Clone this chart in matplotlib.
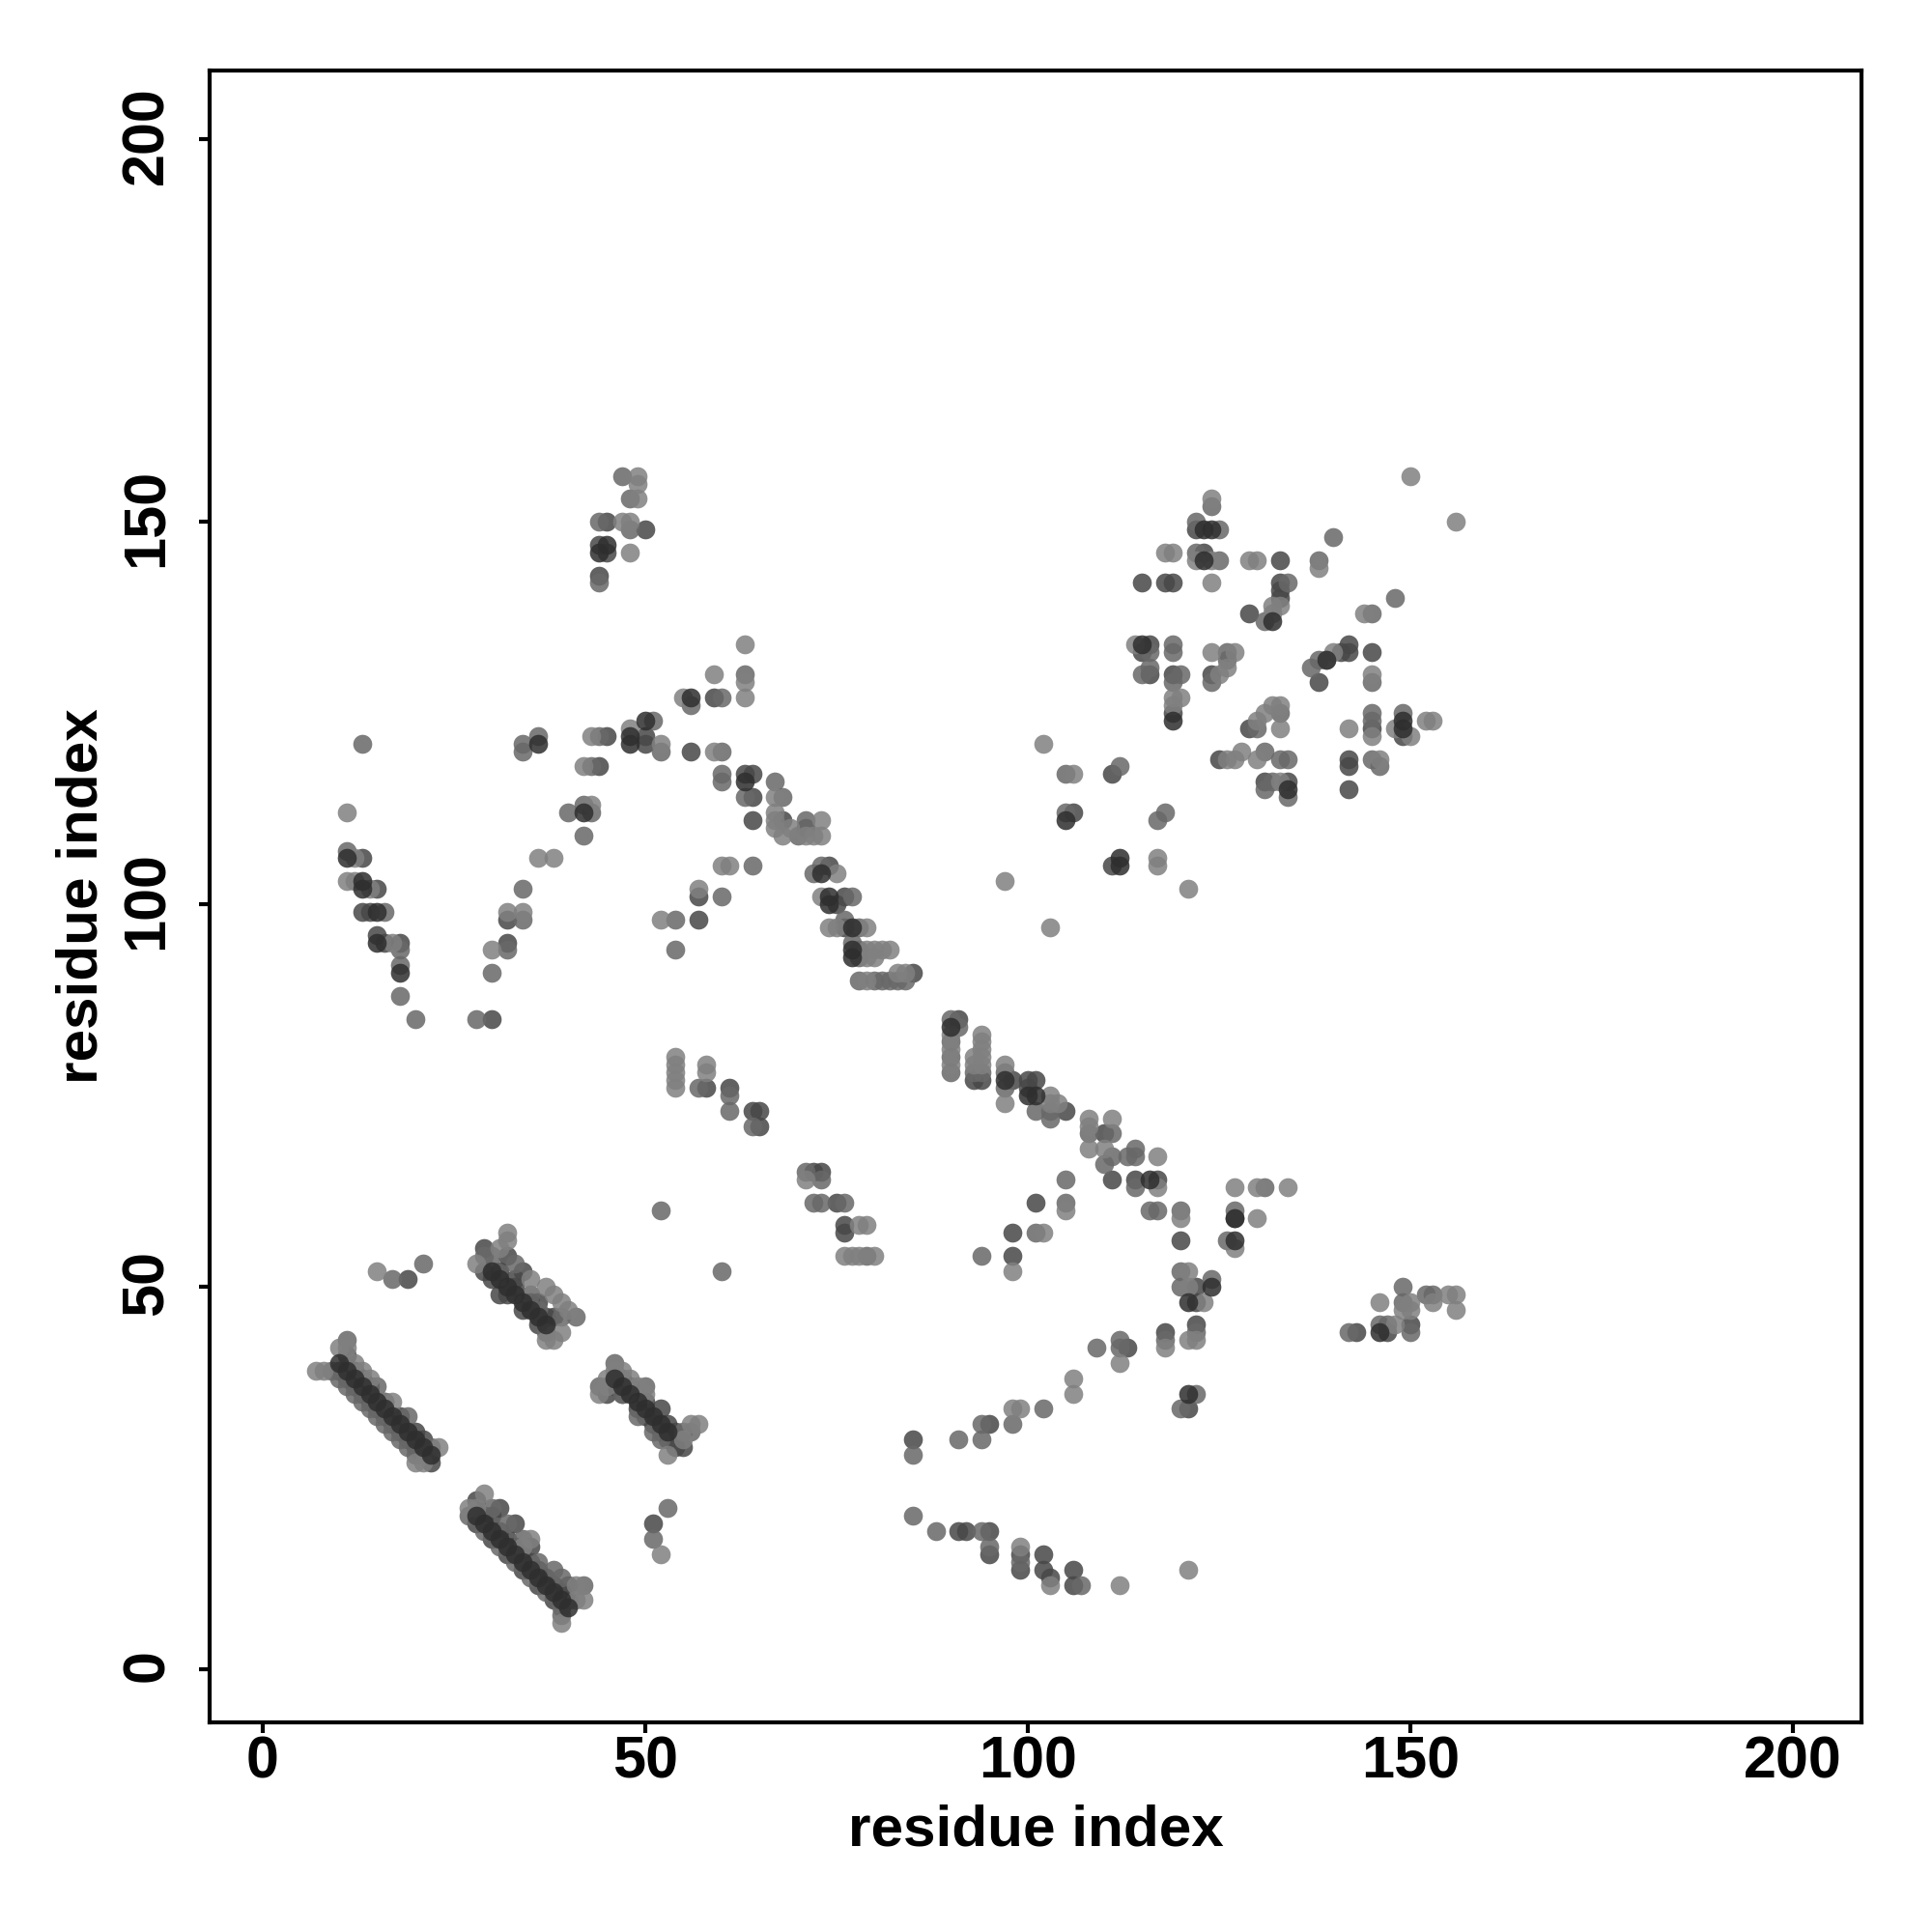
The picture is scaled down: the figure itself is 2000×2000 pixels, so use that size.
import matplotlib
matplotlib.use("Agg")
import matplotlib.pyplot as plt
from matplotlib.transforms import ScaledTranslation
import numpy as np

plt.rcParams['font.family'] = ['Liberation Sans', 'DejaVu Sans']

tick_values = [0, 50, 100, 150, 200]
axis_label = "residue index"

contacts_black = [
 (10,40),(11,39),(12,38),(13,37),(14,36),(15,35),(16,34),(17,33),(18,32),(19,31),(20,30),(21,29),(22,28),
 (28,20),(29,19),(30,18),(31,17),(32,16),(33,15),(34,14),(35,13),(36,12),(37,11),(38,10),(39,9),(40,8),
 (30,52),(31,51),(32,50),(33,49),(34,48),(35,47),(36,46),(37,45),
 (46,38),(47,37),(48,36),(49,35),(50,34),(51,33),(52,32),(53,31),
 (11,106),(13,103),(13,102),(15,99),(15,95),(18,91),
 (36,121),(42,112),(48,121),(48,122),(50,124),(56,127),(63,116),
 (73,104),(74,101),(74,100),(77,97),(77,94),(77,93),
 (90,84),(97,77),(100,75),(101,75),(116,64),(127,56),(124,50),(121,48),(121,36),
 (44,146),(45,147),(123,149),(124,149),(123,145),(132,137),(115,134),(119,124),
 (149,124),(149,123),(134,115),(105,111),(112,106),(112,105),(127,59),(139,132),(146,44),
]
contacts_dark = [
 (11,41),(12,39),(13,38),(20,31),(21,30),(14,37),(16,33),(18,31),(22,27),
 (10,39),(11,38),(12,37),(13,36),(14,35),(15,34),(16,35),(17,32),(18,33),(19,30),(20,29),(21,28),
 (28,22),(31,21),(33,19),(35,16),(36,13),(38,11),(40,11),(30,20),(32,17),
 (28,19),(29,20),(30,17),(31,18),(32,15),(33,16),(34,13),(35,14),(36,11),(37,12),(38,9),(39,10),(40,9),
 (29,55),(32,54),(34,52),(33,51),(36,48),(29,52),(31,49),(38,46),
 (30,51),(31,52),(32,49),(33,50),(34,47),(35,48),(36,45),(37,46),
 (45,36),(47,38),(50,33),(53,32),(54,31),(52,34),(55,29),(54,29),
 (46,37),(47,36),(48,37),(49,34),(50,35),(51,32),(52,31),(53,30),
 (13,106),(15,102),(13,99),(14,99),(15,96),(16,95),(18,95),(30,85),(32,95),(32,98),
 (44,118),(45,122),(50,121),(50,122),(56,120),(59,127),(64,117),(63,117),(64,114),(64,111),(68,111),(71,110),
 (74,105),(75,100),(76,101),(76,97),(85,91),(91,85),(93,77),(94,77),(98,77),(100,77),(100,76),(101,77),(105,73),
 (110,70),(111,64),(114,64),(117,64),(120,56),(127,59),(98,57),(98,54),(101,61),
 (122,50),(122,48),(122,45),(118,44),(121,34),(113,42),(95,32),(85,30),(91,18),(92,18),(95,18),(95,15),(99,15),(99,13),(102,15),(102,13),(103,12),(106,13),(106,11),
 (19,51),(51,19),(58,76),(61,76),(64,73),(65,73),(65,71),(72,65),(73,65),(75,61),(76,58),(76,57),(57,98),(57,101),
 (44,147),(45,146),(44,143),(45,150),(50,149),(122,149),(123,146),(133,145),(115,142),(118,142),(119,142),
 (133,142),(133,141),(133,140),(129,138),(116,134),(115,133),(116,130),(119,130),(124,130),(119,125),
 (129,123),(145,123),(149,122),(125,119),(131,116),(134,116),(142,119),(142,118),(142,115),
 (141,133),(142,133),(142,134),(138,129),(145,133),(111,117),(106,112),(111,105),(143,44),(147,44),(150,45),
]
contacts_mid = [
 (9,39),(10,38),(11,37),(12,36),(13,35),(14,34),(15,33),(16,32),(17,31),(18,30),(19,29),(20,28),(21,28),(11,43),(15,37),(19,33),(22,29),
 (27,20),(29,18),(31,16),(33,14),(35,12),(37,10),(39,8),(42,11),(39,7),(30,21),(32,19),(34,17),(36,14),(38,13),(39,12),
 (30,54),(33,53),(35,49),(36,47),(39,46),(41,46),(37,44),(29,54),
 (46,40),(44,37),(47,36),(49,33),(51,31),(52,30),(55,31),(56,31),(50,37),
 (13,121),(11,107),(18,94),(18,92),(18,88),(20,85),(16,99),(28,85),(30,91),(32,94),(34,98),(34,102),(42,109),(40,112),(42,113),(43,112),(43,118),(44,122),(34,121),(34,120),(36,122),
 (51,124),(52,120),(60,120),(60,127),(56,126),(63,130),(60,117),(60,116),(63,114),(67,116),(68,114),(71,111),(70,109),
 (73,105),(72,104),(77,101),(76,98),(78,97),(77,95),(78,94),(78,93),(78,90),(80,90),(81,90),(82,90),(83,90),(84,90),(54,94),(54,98),(60,101),(64,105),
 (90,85),(91,84),(90,82),(90,80),(90,78),(94,78),(93,78),(97,78),(97,76),(101,73),(103,73),(103,72),
 (108,70),(111,70),(110,66),(111,67),(114,68),(114,67),(113,67),(114,63),(116,60),(117,60),(120,60),(105,64),(105,61),(101,57),(94,54),
 (127,60),(126,56),(131,63),(120,52),(120,50),(124,51),(122,44),(118,43),(122,36),(120,34),(112,43),(112,42),(109,42),(102,34),(98,32),(94,32),(94,30),(91,30),(85,28),(85,20),
 (88,18),(94,18),(95,16),(99,14),(107,11),(17,51),(21,53),(52,60),(60,52),(53,21),(51,17),
 (57,76),(61,75),(61,73),(64,71),(71,65),(73,64),(72,61),(73,61),(76,61),(79,54),
 (44,150),(44,142),(48,149),(47,156),(48,153),(122,150),(125,149),(122,146),(125,145),(138,145),(140,148),(134,142),(131,137),(145,138),(148,140),(124,152),(150,44),
 (116,133),(119,134),(119,133),(126,133),(126,132),(115,130),(116,131),(120,130),(119,129),(124,129),
 (133,125),(130,123),(145,125),(145,124),(149,125),(131,120),(133,119),(134,119),(132,116),(131,115),(134,114),(145,119),(146,118),
 (137,131),(138,132),(145,129),(112,118),(105,117),(105,112),(117,111),(118,112),
 (142,44),(146,45),(147,45),(149,48),(149,50),(153,49),(152,49),
]
contacts_light = [
 (7,39),(8,39),(10,42),(11,42),(13,39),(14,38),(17,35),(20,27),(21,27),(23,29),(12,40),(16,35),
 (27,21),(29,23),(34,16),(35,17),(41,11),(41,9),(42,9),(39,6),(28,21),
 (28,53),(31,55),(32,56),(32,57),(35,51),(37,50),(38,49),(39,48),(40,47),(37,43),(38,43),(39,44),
 (44,36),(45,37),(46,39),(47,39),(48,38),(49,37),(50,36),(56,32),(57,32),(53,28),(55,30),(45,38),
 (11,112),(12,106),(11,103),(12,103),(14,102),(17,95),(30,94),(32,99),(34,99),(36,106),(38,106),
 (43,113),(42,118),(43,122),(48,123),(52,121),(55,127),(59,120),(59,130),(63,127),(63,129),(63,134),
 (67,114),(67,112),(67,111),(67,110),(69,110),(68,109),(73,111),(71,109),(72,109),(73,109),
 (75,104),(73,101),(74,97),(75,97),(79,97),(79,94),(80,94),(81,94),(82,94),(79,93),(80,93),(83,91),(84,91),(79,90),
 (52,98),(57,102),(60,105),(61,105),
 (90,83),(90,81),(90,79),(94,83),(94,82),(94,81),(94,80),(94,79),(93,80),(93,79),(97,79),(97,74),(103,75),(103,74),(104,74),
 (108,72),(108,71),(111,72),(110,68),(108,68),(117,67),(117,63),(120,59),(105,60),(102,57),(98,52),
 (127,63),(130,63),(134,63),(130,59),(127,55),(121,52),(121,50),(123,48),(122,43),(121,43),(118,42),(112,40),(106,38),(106,36),(98,34),(99,34),
 (99,16),(103,11),(112,11),(121,13),(15,52),(52,15),
 (54,80),(54,79),(54,78),(54,77),(54,76),(58,79),(58,78),(71,64),(76,54),(77,54),(78,54),(80,54),(78,58),(79,58),
 (47,150),(48,150),(48,146),(49,156),(49,155),(49,153),(150,156),(156,150),(124,153),(118,146),(119,146),(122,145),(124,145),
 (129,145),(130,145),(138,144),(124,142),(133,139),(132,139),(132,138),(144,138),
 (114,134),(124,133),(127,133),(125,130),(126,131),(119,127),(120,127),(119,126),
 (133,126),(132,126),(131,125),(130,124),(133,123),(142,123),(145,122),(148,123),(150,122),(152,124),(153,124),
 (126,119),(127,119),(128,120),(130,119),(133,116),(146,119),(139,132),(140,133),(145,130),
 (102,121),(106,117),(117,106),(117,105),(121,102),(97,103),(103,97),
 (148,45),(150,48),(150,47),(149,47),(153,48),(155,49),(156,49),(156,47),(146,48),
]

shade_order = [contacts_dark, contacts_mid, contacts_light, contacts_black]
shade_grays = ['#474747', '#686868', '#808080', '#2e2e2e']

fig = plt.figure(figsize=(10, 10), dpi=200)
ax = fig.add_axes([217/2000, 1 - 1783/2000, (1927 - 217)/2000, (1783 - 73)/2000])
for pts, c in zip(shade_order, shade_grays):
    arr = np.array(pts)
    ax.scatter(arr[:, 0], arr[:, 1], s=50, c=c, alpha=0.85, linewidths=0)

ax.set_xlim(-6.9, 209)
ax.set_ylim(-7, 209)
ax.set_xticks(tick_values)
ax.set_yticks(tick_values)
ax.tick_params(axis='x', length=4, width=1.5, labelsize=22, pad=1)
ax.tick_params(axis='y', length=4, width=1.5, labelsize=22, pad=8.7)
shift_up = ScaledTranslation(0, 4 / 200, fig.dpi_scale_trans)
for lab in ax.get_xticklabels():
    lab.set_fontweight('bold')
for lab in ax.get_yticklabels():
    lab.set_fontweight('bold')
    lab.set_rotation(90)
    lab.set_va('center')
    lab.set_transform(lab.get_transform() + shift_up)
for s in ax.spines.values():
    s.set_linewidth(1.5)
ax.set_xlabel(axis_label, fontsize=21.7, fontweight='bold', labelpad=5)
ax.set_ylabel(axis_label, fontsize=21.7, fontweight='bold', labelpad=4.5)
fig.savefig('out.png', dpi=200, facecolor='white')
